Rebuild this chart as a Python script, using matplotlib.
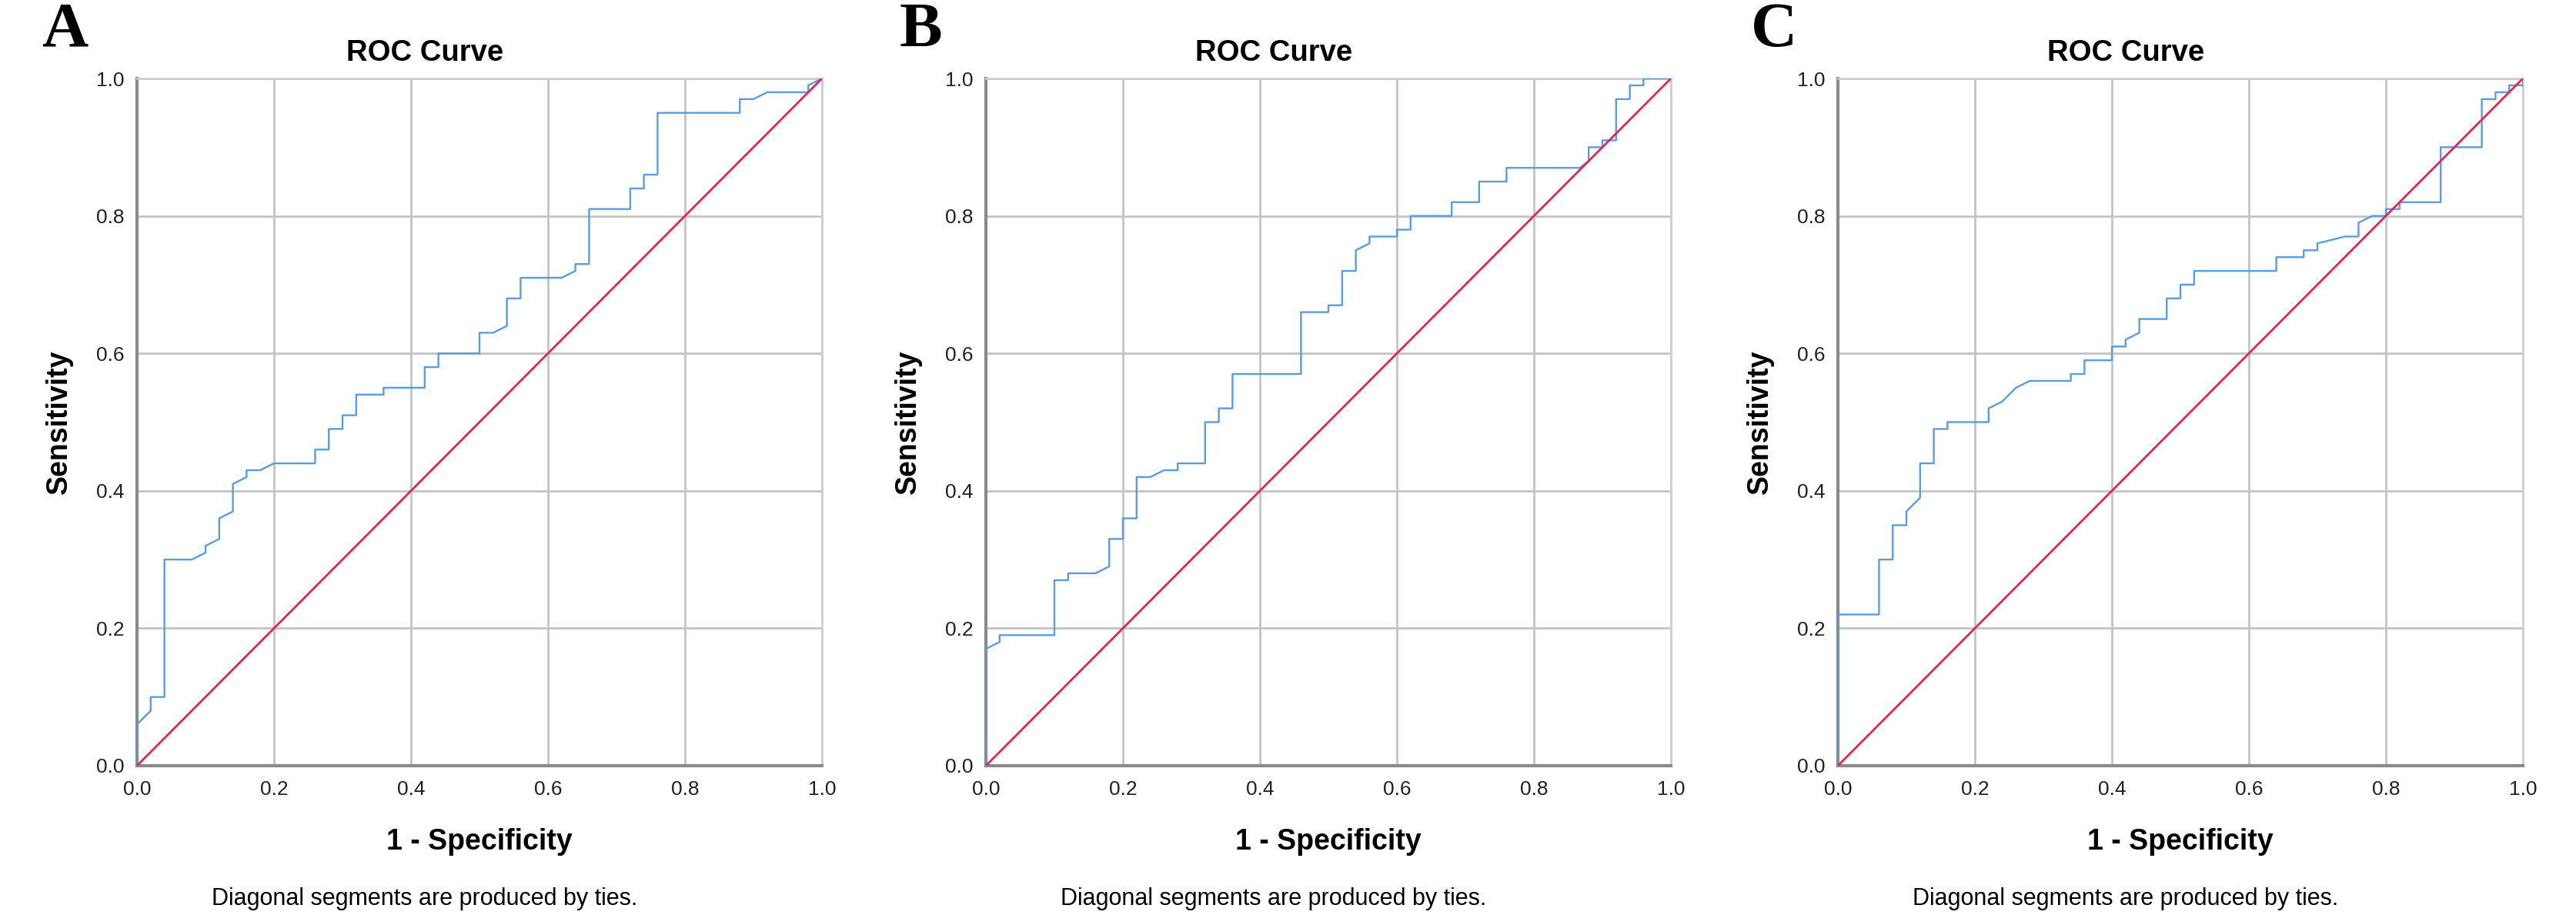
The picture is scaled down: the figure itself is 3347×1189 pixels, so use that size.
import matplotlib.pyplot as plt

# ROC points (1 - specificity, sensitivity)
fpr_a = [0.0, 0.0, 0.02, 0.02, 0.04, 0.04, 0.08, 0.10, 0.10, 0.12, 0.12, 0.14, 0.14,
         0.16, 0.16, 0.18, 0.20, 0.26, 0.26, 0.28, 0.28, 0.30, 0.30, 0.32, 0.32, 0.36,
         0.36, 0.42, 0.42, 0.44, 0.44, 0.50, 0.50, 0.52, 0.54, 0.54, 0.56, 0.56, 0.62,
         0.64, 0.64, 0.66, 0.66, 0.72, 0.72, 0.74, 0.74, 0.76, 0.76, 0.88, 0.88, 0.90,
         0.92, 0.98, 0.98, 1.0]
tpr_a = [0.0, 0.06, 0.08, 0.10, 0.10, 0.30, 0.30, 0.31, 0.32, 0.33, 0.36, 0.37, 0.41,
         0.42, 0.43, 0.43, 0.44, 0.44, 0.46, 0.46, 0.49, 0.49, 0.51, 0.51, 0.54, 0.54,
         0.55, 0.55, 0.58, 0.58, 0.60, 0.60, 0.63, 0.63, 0.64, 0.68, 0.68, 0.71, 0.71,
         0.72, 0.73, 0.73, 0.81, 0.81, 0.84, 0.84, 0.86, 0.86, 0.95, 0.95, 0.97, 0.97,
         0.98, 0.98, 0.99, 1.0]

fpr_b = [0.0, 0.0, 0.02, 0.02, 0.10, 0.10, 0.12, 0.12, 0.16, 0.18, 0.18, 0.20, 0.20,
         0.22, 0.22, 0.24, 0.26, 0.28, 0.28, 0.32, 0.32, 0.34, 0.34, 0.36, 0.36, 0.46,
         0.46, 0.50, 0.50, 0.52, 0.52, 0.54, 0.54, 0.56, 0.56, 0.60, 0.60, 0.62, 0.62,
         0.68, 0.68, 0.72, 0.72, 0.76, 0.76, 0.867, 0.88, 0.88, 0.90, 0.90, 0.92, 0.92,
         0.94, 0.94, 0.96, 0.96, 1.0]
tpr_b = [0.0, 0.17, 0.18, 0.19, 0.19, 0.27, 0.27, 0.28, 0.28, 0.29, 0.33, 0.33, 0.36,
         0.36, 0.42, 0.42, 0.43, 0.43, 0.44, 0.44, 0.50, 0.50, 0.52, 0.52, 0.57, 0.57,
         0.66, 0.66, 0.67, 0.67, 0.72, 0.72, 0.75, 0.76, 0.77, 0.77, 0.78, 0.78, 0.80,
         0.80, 0.82, 0.82, 0.85, 0.85, 0.87, 0.87, 0.88, 0.90, 0.90, 0.91, 0.91, 0.97,
         0.97, 0.99, 0.99, 1.0, 1.0]

fpr_c = [0.0, 0.0, 0.06, 0.06, 0.08, 0.08, 0.10, 0.10, 0.12, 0.12, 0.14, 0.14, 0.16,
         0.16, 0.22, 0.22, 0.24, 0.26, 0.28, 0.34, 0.34, 0.36, 0.36, 0.40, 0.40, 0.42,
         0.42, 0.44, 0.44, 0.48, 0.48, 0.50, 0.50, 0.52, 0.52, 0.64, 0.64, 0.68, 0.68,
         0.70, 0.70, 0.74, 0.76, 0.76, 0.78, 0.80, 0.80, 0.82, 0.82, 0.88, 0.88, 0.94,
         0.94, 0.96, 0.96, 0.98, 0.98, 1.0, 1.0]
tpr_c = [0.0, 0.22, 0.22, 0.30, 0.30, 0.35, 0.35, 0.37, 0.39, 0.44, 0.44, 0.49, 0.49,
         0.50, 0.50, 0.52, 0.53, 0.55, 0.56, 0.56, 0.57, 0.57, 0.59, 0.59, 0.61, 0.61,
         0.62, 0.63, 0.65, 0.65, 0.68, 0.68, 0.70, 0.70, 0.72, 0.72, 0.74, 0.74, 0.75,
         0.75, 0.76, 0.77, 0.77, 0.79, 0.80, 0.80, 0.81, 0.81, 0.82, 0.82, 0.90, 0.90,
         0.97, 0.97, 0.98, 0.98, 0.99, 0.99, 1.0]

panel_letters = ['A', 'B', 'C']
ticks = [0.0, 0.2, 0.4, 0.6, 0.8, 1.0]
tick_labels = ['0.0', '0.2', '0.4', '0.6', '0.8', '1.0']

curves = [(fpr_a, tpr_a), (fpr_b, tpr_b), (fpr_c, tpr_c)]

W, H = 3348, 1189
fig = plt.figure(figsize=(W / 100, H / 100), dpi=100)
plt.rcParams['font.family'] = ['Liberation Sans', 'DejaVu Sans']

# axes placement in pixels: left edge, and the letter centre
ax_left = [178, 1281, 2388]
ax_w = 890
ax_top, ax_bottom = 102, 995
letter_x = [84, 1196, 2305]

for i, (fpr, tpr) in enumerate(curves):
    ax = fig.add_axes([ax_left[i] / W, (H - ax_bottom) / H, ax_w / W, (ax_bottom - ax_top) / H])
    ax.plot(fpr, tpr, color='#5a9ce0', lw=1.7, zorder=3)
    ax.plot([0, 1], [0, 1], color='#e2245a', lw=2.0, zorder=4)
    ax.set_xlim(0, 1)
    ax.set_ylim(0, 1)
    ax.set_xticks(ticks)
    ax.set_yticks(ticks)
    ax.set_xticklabels(tick_labels)
    ax.set_yticklabels(tick_labels)
    ax.tick_params(length=0, labelsize=19, colors='#222222')
    ax.tick_params(axis='x', pad=14)
    ax.tick_params(axis='y', pad=12)
    ax.grid(True, color='#c4c4c4', lw=2.0, zorder=0)
    ax.set_axisbelow(True)
    for side in ['top', 'right']:
        ax.spines[side].set_color('#cfcfcf')
        ax.spines[side].set_linewidth(2)
    for side in ['left', 'bottom']:
        ax.spines[side].set_color('#8a8a8a')
        ax.spines[side].set_linewidth(3)
    ax.text(0.42, 1.037, 'ROC Curve', transform=ax.transAxes, ha='center', va='center',
            fontsize=27.5, fontweight='bold')
    ax.text(0.5, -0.111, '1 - Specificity', transform=ax.transAxes, ha='center', va='center',
            fontsize=27, fontweight='bold')
    ax.text(-0.113, 0.5, 'Sensitivity', transform=ax.transAxes, ha='center', va='center',
            rotation=90, fontsize=27, fontweight='bold')
    ax.text(0.42, -0.194, 'Diagonal segments are produced by ties.', transform=ax.transAxes,
            ha='center', va='center', fontsize=22)
    fig.text(letter_x[i] / W, 1 - 60 / H, panel_letters[i], ha='center', va='baseline',
             fontsize=60, fontweight='bold', family='Liberation Serif')

fig.savefig('out.png', dpi=100)
